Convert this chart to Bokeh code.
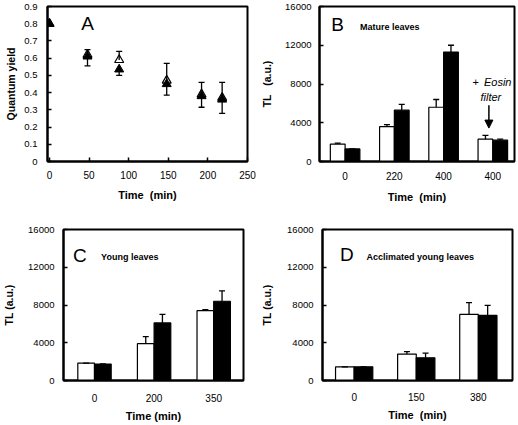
from bokeh.plotting import figure
from bokeh.models import (ColumnDataSource, Whisker, TeeHead, FixedTicker, Arrow,
                          NormalHead, Range1d, Label)
from bokeh.layouts import row, column
from bokeh.embed import file_html
from bokeh.resources import INLINE

FONT = "Liberation Sans"
NB = "\u00a0"

# ---------------- data ----------------
# Panel A: quantum yield vs time
a_time = [0, 48, 88, 148, 192, 218]
a_open = [0.80, 0.62, 0.59, 0.47, 0.39, 0.37]
a_open_err_hi = [0.80, 0.65, 0.64, 0.57, 0.46, 0.46]
a_filled = [0.80, 0.61, 0.535, 0.45, 0.38, 0.36]
a_filled_err_lo = [0.80, 0.555, 0.50, 0.385, 0.315, 0.28]
a_xticks = [0, 50, 100, 150, 200, 250]
a_yticks = [0, 0.1, 0.2, 0.3, 0.4, 0.5, 0.6, 0.7, 0.8, 0.9]

# Panel B: mature leaves
b_labels = ["0", "220", "400", "400"]
b_white = [1800, 3600, 5600, 2300]
b_white_err = [1900, 3800, 6400, 2700]
b_black = [1300, 5300, 11300, 2200]
b_black_err = [1300, 5900, 12000, 2300]

# Panel C: young leaves
c_labels = ["0", "200", "350"]
c_white = [1850, 3900, 7400]
c_white_err = [1850, 4650, 7500]
c_black = [1750, 6100, 8400]
c_black_err = [1750, 7000, 9500]

# Panel D: acclimated young leaves
d_labels = ["0", "150", "380"]
d_white = [1450, 2800, 7000]
d_white_err = [1450, 3050, 8250]
d_black = [1450, 2400, 6900]
d_black_err = [1450, 2900, 7950]

tl_ticks = [0, 4000, 8000, 12000, 16000]


def style(p, xlab, ylab, y_standoff, ylab_standoff, x_standoff, xlab_standoff):
    p.xgrid.visible = False
    p.ygrid.visible = False
    p.outline_line_color = "black"
    p.outline_line_width = 2
    p.outline_line_alpha = 1
    p.background_fill_color = "white"
    p.border_fill_color = "white"
    for ax in (p.xaxis[0], p.yaxis[0]):
        ax.axis_line_color = "black"
        ax.axis_line_width = 2
        ax.major_tick_line_color = "black"
        ax.major_tick_line_width = 1.5
        ax.major_tick_in = 4
        ax.major_tick_out = 0
        ax.minor_tick_line_color = None
        ax.major_label_text_font = FONT
        ax.major_label_text_color = "black"
        ax.axis_label_text_font = FONT
        ax.axis_label_text_font_style = "bold"
        ax.axis_label_text_color = "black"
    p.xaxis[0].major_label_text_font_size = "10px"
    p.yaxis[0].major_label_text_font_size = "9.5px"
    p.xaxis[0].axis_label_text_font_size = "11px"
    p.yaxis[0].axis_label_text_font_size = "10.5px"
    p.xaxis[0].axis_label = xlab
    p.yaxis[0].axis_label = ylab
    p.yaxis[0].major_label_standoff = y_standoff
    p.yaxis[0].axis_label_standoff = ylab_standoff
    p.xaxis[0].major_label_standoff = x_standoff
    p.xaxis[0].axis_label_standoff = xlab_standoff


def make_fig(w, h, xr, yr, bl, br, bt, bb):
    p = figure(width=w, height=h, x_range=xr, y_range=yr, toolbar_location=None,
               output_backend="svg", min_border_left=bl, min_border_right=br,
               min_border_top=bt, min_border_bottom=bb)
    return p


# ---------------- Panel A ----------------
pa = make_fig(258, 210, Range1d(-2.5, 250), Range1d(0, 0.9), 47, 11, 6, 49)
style(pa, "Time" + NB + NB + "(min)", "Quantum yield", 10, 4, 9, 7)
pa.xaxis[0].ticker = FixedTicker(ticks=a_xticks)
pa.yaxis[0].ticker = FixedTicker(ticks=a_yticks)
pa.yaxis[0].major_label_overrides = {0: "0"}

src_a = ColumnDataSource(dict(t=a_time, op=a_open, ophi=a_open_err_hi,
                              fi=a_filled, filo=a_filled_err_lo))
pa.add_layout(Whisker(source=src_a, base="t", lower="op", upper="ophi",
                      line_color="black", line_width=1.3, level="overlay",
                      upper_head=TeeHead(size=6, line_color="black", line_width=1.3),
                      lower_head=None))
pa.add_layout(Whisker(source=src_a, base="t", lower="filo", upper="fi",
                      line_color="black", line_width=1.3, level="overlay",
                      lower_head=TeeHead(size=6, line_color="black", line_width=1.3),
                      upper_head=None))
pa.scatter("t", "op", source=src_a, marker="triangle", size=9,
           fill_color="white", line_color="black", line_width=1.2)
pa.scatter("t", "fi", source=src_a, marker="triangle", size=9,
           fill_color="black", line_color="black")
pa.add_layout(Label(x=40, y=0.80, text="A", text_font=FONT, text_font_size="19px",
                    text_color="black", text_baseline="middle", text_align="left"))


# ---------------- bar panels ----------------
def bar_panel(w, h, labels, white, white_err, black, black_err, xr, bw,
              bl, br, bt, bb, xlab, ylab, y_standoff, ylab_standoff,
              x_standoff, xlab_standoff):
    p = make_fig(w, h, Range1d(*xr), Range1d(0, 16000), bl, br, bt, bb)
    style(p, xlab, ylab, y_standoff, ylab_standoff, x_standoff, xlab_standoff)
    idx = list(range(len(labels)))
    src = ColumnDataSource(dict(
        xw=[i - bw / 2 for i in idx], xb=[i + bw / 2 for i in idx],
        w=white, we=white_err, b=black, be=black_err))
    p.vbar(x="xw", top="w", width=bw, source=src, fill_color="white",
           line_color="black", line_width=1.2)
    p.vbar(x="xb", top="b", width=bw, source=src, fill_color="black",
           line_color="black", line_width=1.2)
    for base, lo, up in (("xw", "w", "we"), ("xb", "b", "be")):
        p.add_layout(Whisker(source=src, base=base, lower=lo, upper=up,
                             line_color="black", line_width=1.3, level="overlay",
                             upper_head=TeeHead(size=6, line_color="black", line_width=1.3),
                             lower_head=None))
    p.xaxis[0].ticker = FixedTicker(ticks=idx)
    p.xaxis[0].major_label_overrides = {i: lab for i, lab in enumerate(labels)}
    p.xaxis[0].major_tick_line_color = None
    p.yaxis[0].ticker = FixedTicker(ticks=tl_ticks)
    return p


pb = bar_panel(259, 210, b_labels, b_white, b_white_err, b_black, b_black_err,
               (-0.52, 3.44), 0.3, 58, 3, 5, 49,
               "Time" + NB + NB + "(min)", "TL" + NB + NB + NB + "(a.u.)",
               8, 9, 10, 8)
pb.add_layout(Label(x=-0.28, y=14100, text="B", text_font=FONT, text_font_size="19px",
                    text_color="black", text_baseline="middle", text_align="left"))
pb.add_layout(Label(x=0.30, y=13900, text="Mature leaves", text_font=FONT,
                    text_font_size="9px", text_font_style="bold", text_color="black",
                    text_baseline="middle", text_align="left"))
pb.add_layout(Label(x=2.65, y=8200, text="+", text_font=FONT, text_font_size="11px",
                    text_color="black", text_baseline="middle", text_align="center"))
pb.add_layout(Label(x=2.82, y=8200, text="Eosin", text_font=FONT, text_font_size="11px",
                    text_font_style="italic", text_color="black",
                    text_baseline="middle", text_align="left"))
pb.add_layout(Label(x=2.96, y=6670, text="filter", text_font=FONT, text_font_size="11px",
                    text_font_style="italic", text_color="black",
                    text_baseline="middle", text_align="center"))
pb.add_layout(Arrow(end=NormalHead(size=8, fill_color="black", line_color="black"),
                    x_start=2.92, y_start=5800, x_end=2.92, y_end=3450,
                    line_color="black", line_width=1.5))

pc = bar_panel(258, 214, c_labels, c_white, c_white_err, c_black, c_black_err,
               (-0.52, 2.5), 0.28, 57, 15, 19, 40, "Time (min)", "TL (a.u.)",
               9, 10, 13, 5)
pc.add_layout(Label(x=-0.36, y=13260, text="C", text_font=FONT, text_font_size="19px",
                    text_color="black", text_baseline="middle", text_align="left"))
pc.add_layout(Label(x=0.11, y=13100, text="Young leaves", text_font=FONT,
                    text_font_size="9px", text_font_style="bold", text_color="black",
                    text_baseline="middle", text_align="left"))

pd_ = bar_panel(259, 214, d_labels, d_white, d_white_err, d_black, d_black_err,
                (-0.51, 2.55), 0.3, 61, 5, 13, 38,
                "Time" + NB + NB + "(min)", "TL (a.u.)",
                9, 11, 12, 5)
pd_.add_layout(Label(x=-0.23, y=13350, text="D", text_font=FONT, text_font_size="19px",
                     text_color="black", text_baseline="middle", text_align="left"))
pd_.add_layout(Label(x=0.2, y=13050, text="Acclimated young leaves", text_font=FONT,
                     text_font_size="9px", text_font_style="bold", text_color="black",
                     text_baseline="middle", text_align="left"))

layout = column(row(pa, pb), row(pc, pd_))

open("out.html", "w").write(file_html(layout, INLINE))
